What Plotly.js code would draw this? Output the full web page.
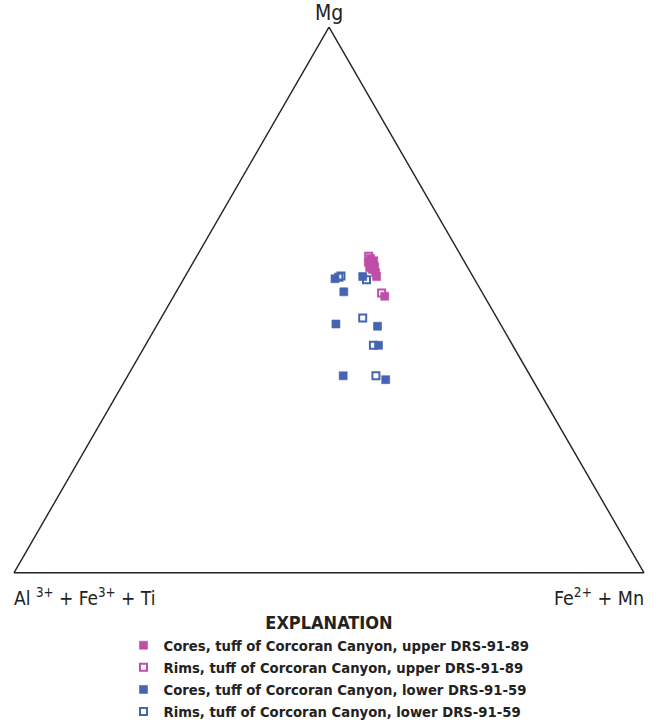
<!DOCTYPE html>
<html>
<head>
<meta charset="utf-8">
<script src="https://cdn.plot.ly/plotly-3.0.1.min.js"></script>
<style>html,body{margin:0;padding:0;background:#fff;}#chart{width:658px;height:728px;}</style>
</head>
<body>
<div id="chart"></div>
<script>
// Ternary components (percent): Mg (top), Al3+ + Fe3+ + Ti (left), Fe2+ + Mn (right)
const upperCoresMg = [57.6, 57.2, 56.9, 56.5, 56.1, 55.9, 55.6, 55.0, 54.3, 50.7];
const upperCoresAl = [14.6, 14.3, 15.3, 15.0, 14.7, 15.6, 15.3, 15.1, 15.3, 15.8];
const upperCoresFe = [27.8, 28.5, 27.8, 28.5, 29.2, 28.5, 29.1, 29.9, 30.4, 33.5];

const upperRimsMg = [58.0, 51.3];
const upperRimsAl = [14.7, 16.0];
const upperRimsFe = [27.3, 32.7];

const lowerCoresMg = [53.9, 51.5, 54.3, 45.6, 45.2, 41.7, 36.1, 35.4];
const lowerCoresAl = [22.1, 21.9, 17.5, 26.1, 19.7, 21.3, 29.7, 23.3];
const lowerCoresFe = [24.0, 26.6, 28.2, 28.3, 35.1, 37.0, 34.2, 41.3];

const lowerRimsMg = [54.4, 52.0, 53.7, 46.7, 41.7, 36.1];
const lowerRimsAl = [20.9, 20.5, 17.2, 21.3, 22.1, 24.5];
const lowerRimsFe = [24.7, 23.5, 29.1, 32.0, 36.2, 39.4];

const seriesNames = [
  "Cores, tuff of Corcoran Canyon, upper DRS-91-89",
  "Rims, tuff of Corcoran Canyon, upper DRS-91-89",
  "Cores, tuff of Corcoran Canyon, lower DRS-91-59",
  "Rims, tuff of Corcoran Canyon, lower DRS-91-59"
];
const axisTitles = ["Mg", "Al <sup>3+</sup> + Fe<sup>3+</sup> + Ti", "Fe<sup>2+</sup> + Mn"];
const legendTitle = "EXPLANATION";

const PINK = "#bf4ea7";
const BLUE = "#4664b4";
const NARROW = "'Liberation Sans Narrow', 'DejaVu Sans Condensed', 'Arial Narrow', sans-serif";

function filled(color) {
  return {symbol: "square", size: 8, color: color, line: {width: 0.6, color: color}};
}
function open(color) {
  return {symbol: "square-open", size: 7, color: color, line: {width: 2, color: color}};
}

const traces = [
  {a: upperCoresMg, b: upperCoresAl, c: upperCoresFe, name: seriesNames[0], marker: filled(PINK), legendgroup: "g1"},
  {a: upperRimsMg, b: upperRimsAl, c: upperRimsFe, name: seriesNames[1], marker: open(PINK), legendgroup: "g2"},
  {a: lowerCoresMg, b: lowerCoresAl, c: lowerCoresFe, name: seriesNames[2], marker: filled(BLUE), legendgroup: "g3"},
  {a: lowerRimsMg, b: lowerRimsAl, c: lowerRimsFe, name: seriesNames[3], marker: open(BLUE), legendgroup: "g4"}
].map(t => Object.assign({type: "scatterternary", mode: "markers", hoverinfo: "skip"}, t));

// draw pink above blue
const ordered = [traces[2], traces[3], traces[0], traces[1]];
ordered.forEach(t => { t.legendrank = seriesNames.indexOf(t.name) + 1; });

const axisCommon = {
  showline: true, linecolor: "#222", linewidth: 1.4,
  showgrid: false, showticklabels: false, ticks: "", title: {text: ""}, min: 0
};

const layout = {
  width: 658, height: 728,
  margin: {l: 14, r: 14, t: 27, b: 155, autoexpand: false},
  paper_bgcolor: "#fff",
  showlegend: true,
  hovermode: false,
  font: {family: NARROW, color: "#222"},
  ternary: {
    sum: 100,
    bgcolor: "rgba(0,0,0,0)",
    aaxis: axisCommon, baxis: axisCommon, caxis: axisCommon
  },
  legend: {
    x: 0.5, xanchor: "center", y: -0.06, yanchor: "top",
    traceorder: "grouped", tracegroupgap: 0,
    font: {family: NARROW, size: 14.7, color: "#222", weight: "bold"},
    title: {text: "<b>" + legendTitle + "</b>", side: "top center", font: {family: NARROW, size: 18, color: "#222"}},
    itemwidth: 30,
    bgcolor: "rgba(0,0,0,0)"
  },
  annotations: [
    {text: axisTitles[0], xref: "paper", yref: "paper", x: 0.5, y: 1.025, xanchor: "center", yanchor: "middle", showarrow: false, font: {family: NARROW, size: 21, color: "#222"}},
    {text: axisTitles[1], xref: "paper", yref: "paper", x: -0.003, y: -0.044, xanchor: "left", yanchor: "middle", showarrow: false, font: {family: NARROW, size: 19, color: "#222"}},
    {text: axisTitles[2], xref: "paper", yref: "paper", x: 1.003, y: -0.044, xanchor: "right", yanchor: "middle", showarrow: false, font: {family: NARROW, size: 19.5, color: "#222"}}
  ]
};

Plotly.newPlot("chart", ordered, layout, {displayModeBar: false, staticPlot: true});
</script>
</body>
</html>
